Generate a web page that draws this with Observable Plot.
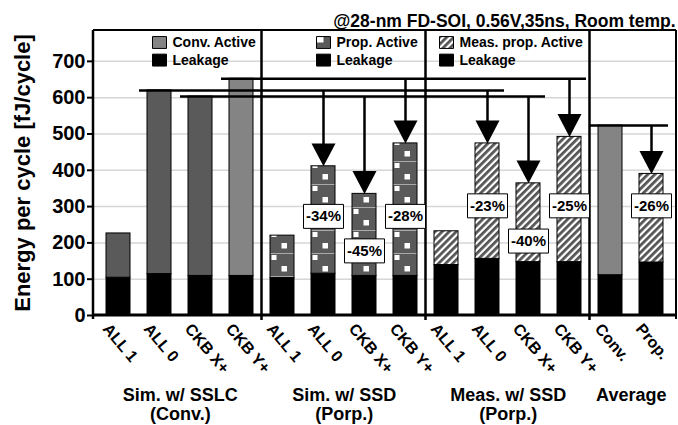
<!DOCTYPE html>
<html><head><meta charset="utf-8">
<script src="https://cdn.jsdelivr.net/npm/d3@7"></script>
<script src="https://cdn.jsdelivr.net/npm/@observablehq/plot@0.6"></script>
<style>body{margin:0;background:#fff} svg{display:block}</style>
</head><body><div id="chart"></div>
<script>
// ---- data ----
const categories = ["ALL 1","ALL 0","CKB X+","CKB Y+","ALL 1","ALL 0","CKB X+","CKB Y+","ALL 1","ALL 0","CKB X+","CKB Y+","Conv.","Prop."];
const groupLabels = ["Sim. w/ SSLC\n(Conv.)","Sim. w/ SSD\n(Porp.)","Meas. w/ SSD\n(Porp.)","Average"];
const groupStart = [0,4,8,12];
const groupSize = [4,4,4,2];
const totals  = [226,620,603,652, 220,411,335,474, 232,474,364,492, 523,390];
const leakage = [104,114,109,109, 103,115,109,109, 139,156,147,147, 111,146];
const activeType = ["conv","conv","conv","convLight","prop","prop","prop","prop","meas","meas","meas","meas","convLight","meas"];
const arrowFrom = [1,2,3,1,2,3,12];
const arrowTo   = [5,6,7,9,10,11,13];
const reductions = ["-34%","-45%","-28%","-23%","-40%","-25%","-26%"];
const reductionLabelY = [273,178,273,302,205,302,302];
const yTicks = [0,100,200,300,400,500,600,700];
const legendActive = ["Conv. Active","Prop. Active","Meas. prop. Active"];
const legendActiveType = ["convLight","propSwatch","meas"];
const legendAnchor = [1,5,8];
const legendLeak = "Leakage";
const title = "@28-nm FD-SOI, 0.56V,35ns, Room temp.";
const yLabel = "Energy per cycle [fJ/cycle]";

// ---- derived tables ----
const ids = categories.map((c, i) => `${i}|${c}`);
const fillOf = {conv: "#5a5a5a", convLight: "#848484", prop: "url(#dots)", meas: "url(#hatch)", propSwatch: "url(#propSw)", leak: "#000"};
const bars = ids.map((id, i) => ({id, leak: leakage[i], total: totals[i], fill: fillOf[activeType[i]]}));
const arrows = arrowTo.map((t, k) => ({from: ids[arrowFrom[k]], to: ids[t], y1: totals[arrowFrom[k]], y2: totals[t], label: reductions[k], ly: reductionLabelY[k]}));
const hLines = [...new Set(arrowFrom)].map(f => ({x1: ids[f], x2: ids[d3.max(arrowTo.filter((t, k) => arrowFrom[k] === f))], y: totals[f]}));
const groups = groupLabels.map((g, k) => ({label: g, id: ids[groupStart[k] + groupSize[k] / 2 - 1]}));
const legend = legendActive.map((l, k) => ({id: ids[legendAnchor[k]], label: l, fill: fillOf[legendActiveType[k]]}));

const SVGNS = "http://www.w3.org/2000/svg";
const rectSymbol = (aspect) => ({draw(ctx, size) { const w = Math.sqrt(size), h = w * aspect; ctx.rect(-w / 2, -h / 2, w, h); }});
const downTriangle = {draw(ctx, size) { const w = Math.sqrt(size), h = w * 0.95; ctx.moveTo(0, 0); ctx.lineTo(-w / 2, -h); ctx.lineTo(w / 2, -h); ctx.closePath(); }};
const rFor = (w) => w / Math.sqrt(Math.PI);

function defsMark(index, scales) {
  const x = scales.x, bw = x.bandwidth(), step = x.step();
  const x0 = x(ids[0]);
  const g = document.createElementNS(SVGNS, "g");
  g.innerHTML = `<defs>
    <pattern id="dots" patternUnits="userSpaceOnUse" x="${x0}" y="0" width="${step}" height="23">
      <rect width="${step}" height="23" fill="#5a5a5a"/>
      <rect x="1.5" y="2" width="5" height="5" fill="#fff"/>
      <rect x="11.5" y="13" width="5.5" height="5.5" fill="#fff"/>
      <rect x="0" y="0" width="${bw}" height="0.8" fill="#bdbdbd"/>
    </pattern>
    <pattern id="hatch" patternUnits="userSpaceOnUse" width="5" height="5" patternTransform="rotate(45)">
      <rect width="5" height="5" fill="#fff"/>
      <rect width="2.8" height="5" fill="#555"/>
    </pattern>
    <pattern id="propSw" width="1" height="1" patternContentUnits="objectBoundingBox">
      <rect width="1" height="1" fill="#5a5a5a"/>
      <rect width="0.5" height="0.5" fill="#fff"/>
    </pattern>
  </defs>`;
  return g;
}

function frameMark(index, scales, values, dims) {
  const x = scales.x, bw = x.bandwidth(), step = x.step();
  const {width, height, marginTop, marginRight, marginBottom, marginLeft} = dims;
  const yb = height - marginBottom, xr = width - marginRight;
  const g = document.createElementNS(SVGNS, "g");
  const lines = [
    [marginLeft, marginTop, xr, marginTop, 2],
    [marginLeft, marginTop, marginLeft, yb + 4, 2.5],
    [xr, marginTop, xr, yb + 4, 2],
    [marginLeft, yb, xr, yb, 3]
  ];
  groupStart.slice(1).forEach(i => {
    const xs = x(ids[i]) - (step - bw) / 2;
    lines.push([xs, marginTop, xs, yb + 5, 2.5]);
  });
  for (const [a, b, c, d, w] of lines) {
    const l = document.createElementNS(SVGNS, "line");
    l.setAttribute("x1", a); l.setAttribute("y1", b); l.setAttribute("x2", c); l.setAttribute("y2", d);
    l.setAttribute("stroke", "#000"); l.setAttribute("stroke-width", w);
    g.appendChild(l);
  }
  return g;
}

const bold = {fontWeight: "bold"};

const chart = Plot.plot({
  width: 678,
  height: 425,
  marginTop: 30,
  marginBottom: 110,
  marginLeft: 93,
  marginRight: 2,
  style: {fontFamily: "'Liberation Sans', Arial, sans-serif", background: "#fff", overflow: "visible"},
  x: {type: "band", domain: ids, paddingInner: 0.42, paddingOuter: 0.21, axis: null},
  y: {domain: [0, 785], axis: null},
  color: {type: "identity"},
  marks: [
    defsMark,
    Plot.gridY(yTicks.filter(v => v > 0), {stroke: "#d6d6d6", strokeOpacity: 1, strokeWidth: 1.5}),
    Plot.barY(bars, {x: "id", y1: 0, y2: "leak", fill: "#000", stroke: "#000", strokeWidth: 1}),
    Plot.barY(bars, {x: "id", y1: "leak", y2: "total", fill: "fill", stroke: "#000", strokeWidth: 1}),
    frameMark,
    Plot.ruleY(hLines, {x1: "x1", x2: "x2", y: "y", stroke: "#000", strokeWidth: 2.5, insetLeft: -8, insetRight: -5}),
    Plot.ruleX(arrows, {x: "to", y1: "y1", y2: "y2", stroke: "#000", strokeWidth: 2.5, insetBottom: 10}),
    Plot.dot(arrows, {x: "to", y: "y2", symbol: downTriangle, r: rFor(24), fill: "#000", stroke: "none"}),
    Plot.dot(arrows, {x: "to", y: "ly", symbol: rectSymbol(0.6), r: rFor(40), fill: "#fff", stroke: "#000", strokeWidth: 1}),
    Plot.text(arrows, {x: "to", y: "ly", text: "label", fontSize: 15, ...bold, lineAnchor: "middle", fill: "#000"}),
    Plot.axisY({ticks: yTicks, tickSize: 6, tickPadding: 2, fontSize: 20, ...bold, strokeWidth: 2, label: null, fill: "#000"}),
    Plot.text(ids, {x: d => d, frameAnchor: "bottom", text: (d, i) => categories[i], rotate: 50, textAnchor: "start", lineAnchor: "middle", dx: -12.5, dy: 10.5, fontSize: 16, ...bold, fill: "#000"}),
    Plot.text(groups, {x: "id", frameAnchor: "bottom", text: "label", textAnchor: "middle", lineAnchor: "top", lineHeight: 1.1, dx: 20.8, dy: 71, fontSize: 18, ...bold, fill: "#000"}),
    Plot.dot(legend, {x: "id", frameAnchor: "top", dy: 12, symbol: rectSymbol(0.85), r: rFor(14), fill: "fill", stroke: "#000", strokeWidth: 1}),
    Plot.dot(legend, {x: "id", frameAnchor: "top", dy: 29.6, symbol: rectSymbol(0.85), r: rFor(14), fill: "#000", stroke: "#000", strokeWidth: 1}),
    Plot.text(legend, {x: "id", frameAnchor: "top", dy: 12.5, dx: 13, text: "label", textAnchor: "start", lineAnchor: "middle", fontSize: 14, ...bold, fill: "#000"}),
    Plot.text(legend, {x: "id", frameAnchor: "top", dy: 30, dx: 13, text: () => legendLeak, textAnchor: "start", lineAnchor: "middle", fontSize: 14, ...bold, fill: "#000"}),
    Plot.text([title], {frameAnchor: "top-right", text: d => d, textAnchor: "end", lineAnchor: "bottom", dx: -1, dy: -4, fontSize: 17.5, ...bold, fill: "#000"}),
    Plot.text([yLabel], {frameAnchor: "left", text: d => d, rotate: -90, textAnchor: "middle", lineAnchor: "middle", dx: -71, fontSize: 22, ...bold, fill: "#000"})
  ]
});
document.getElementById("chart").appendChild(chart);
</script>
</body></html>
